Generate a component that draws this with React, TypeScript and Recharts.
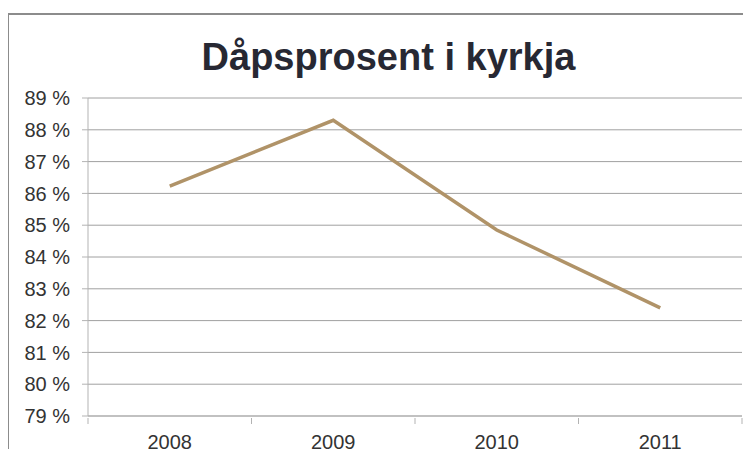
import { ComposedChart, Line, XAxis, YAxis, CartesianGrid } from "recharts";

const years = ["2008", "2009", "2010", "2011"];
const baptismPct = [86.23, 88.3, 84.85, 82.4];
const yTicks = [79, 80, 81, 82, 83, 84, 85, 86, 87, 88, 89];

const data = years.map((year, i) => ({ year, pct: baptismPct[i] }));

const W = 751;
const H = 457;
const xAxisHeight = 30;
const margin = { top: 98, right: 9, bottom: 41 - xAxisHeight, left: 0 };
const yAxisWidth = 88;
const band = (W - margin.left - margin.right - yAxisWidth) / years.length;
const font = "Liberation Sans, Arial, sans-serif";

function XTick(props: any) {
  const { x, y, payload, index } = props;
  const half = band / 2;
  return (
    <g>
      <line x1={x - half} x2={x - half} y1={y - 6} y2={y} stroke="#b3b3b3" />
      {index === years.length - 1 && (
        <line x1={x + half} x2={x + half} y1={y - 6} y2={y} stroke="#b3b3b3" />
      )}
      <text x={x} y={y + 25} textAnchor="middle" fill="#333" fontSize={20} fontFamily={font}>
        {payload.value}
      </text>
    </g>
  );
}

export default function App() {
  return (
    <div style={{ position: "relative", width: W, height: H, margin: -8, background: "#fff", overflow: "hidden" }}>
      <div
        style={{
          position: "absolute",
          left: 7,
          top: 13,
          width: W,
          height: H,
          border: "2px solid #8c8c8c",
          boxSizing: "border-box",
        }}
      />
      <div
        style={{
          position: "absolute",
          left: 0,
          top: 36,
          width: 777,
          textAlign: "center",
          fontFamily: font,
          fontWeight: "bold",
          fontSize: 38,
          lineHeight: 1.15,
          color: "#272833",
        }}
      >
        Dåpsprosent i kyrkja
      </div>
      <div style={{ position: "absolute", left: 0, top: 0 }}>
        <ComposedChart width={W} height={H} data={data} margin={margin}>
          <CartesianGrid vertical={false} stroke="#a0a0a0" />
          <XAxis
            dataKey="year"
            scale="band"
            height={xAxisHeight}
            axisLine={{ stroke: "#b3b3b3" }}
            tickLine={false}
            tick={<XTick />}
            interval={0}
          />
          <YAxis
            width={yAxisWidth}
            domain={[79, 89]}
            ticks={yTicks}
            allowDataOverflow
            axisLine={{ stroke: "#b3b3b3" }}
            tickLine={{ stroke: "#b3b3b3" }}
            tickSize={6}
            tickMargin={12}
            tickFormatter={(v: number) => `${v} %`}
            tick={{ fill: "#333", fontSize: 20, fontFamily: font }}
          />
          <Line
            dataKey="pct"
            stroke="#b09368"
            strokeWidth={3.5}
            dot={false}
            isAnimationActive={false}
          />
        </ComposedChart>
      </div>
    </div>
  );
}
